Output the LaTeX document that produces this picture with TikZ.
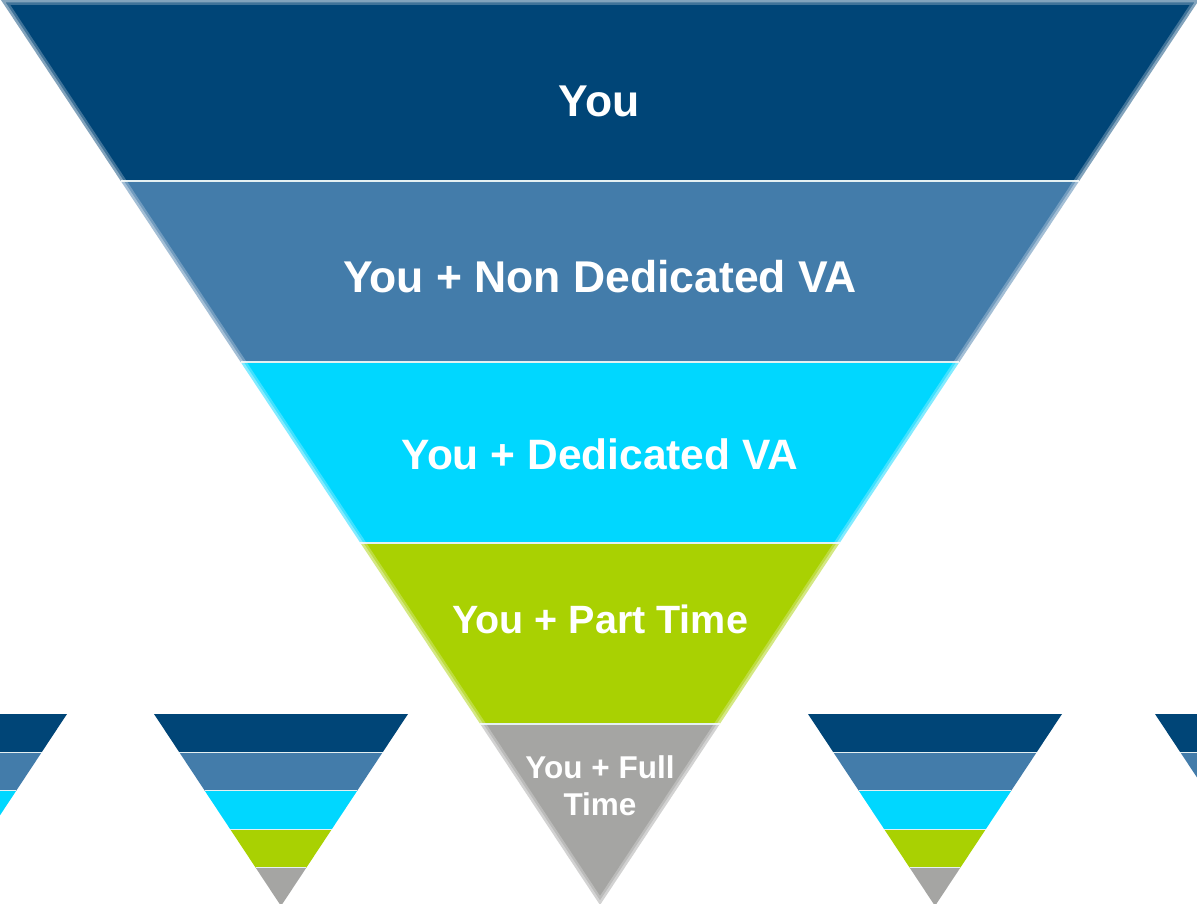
\documentclass[tikz,border=0pt]{standalone}
\usepackage{fontspec}
\setmainfont{Liberation Sans}
\usepackage{tikz}
\usetikzlibrary{calc}
\definecolor{funBlue}{HTML}{004577}
\definecolor{funSteel}{HTML}{437CAA}
\definecolor{funCyan}{HTML}{00D7FF}
\definecolor{funGreen}{HTML}{A9D102}
\definecolor{funGray}{HTML}{A5A5A3}
\definecolor{funSep}{HTML}{E4F0F2}
\tikzset{
	bandtext/.style 2 args={text=white, inner sep=0pt, align=center,
		font=\bfseries\fontsize{#1}{#2}\selectfont},
	softedge/.style={draw=white, line join=miter, draw opacity=#1},
}
% centre x, top y, half width, height, separator width
\newcommand{\funnel}[5]{%
	\coordinate (fl) at ({#1-#3},#2);
	\coordinate (fr) at ({#1+#3},#2);
	\coordinate (fa) at (#1,{#2+#4});
	\foreach \col [count=\i from 0] in {funBlue,funSteel,funCyan,funGreen,funGray} {
		\pgfmathsetmacro\ta{1-\i/5}
		\pgfmathsetmacro\tb{1-(\i+1)/5}
		\fill[\col] ($(fa)!\ta!(fl)$) -- ($(fa)!\ta!(fr)$) -- ($(fa)!\tb!(fr)$) -- ($(fa)!\tb!(fl)$) -- cycle;
	}
	\foreach \t in {0.8,0.6,0.4,0.2}
		\draw[funSep, line width=#5] ($(fa)!\t!(fl)$) -- ($(fa)!\t!(fr)$);
}

\begin{document}
\begin{tikzpicture}[x=1pt, y=-1pt]
	\clip (0,0) rectangle (1197,904);
	\fill[white] (0,0) rectangle (1197,904);

	% small funnels along the bottom
	\funnel{-60}{714}{127}{192}{1.2}
	\funnel{281}{714}{127}{192}{1.2}
	\funnel{935}{714}{127}{192}{1.2}
	\funnel{1282}{714}{127}{192}{1.2}

	% big funnel, edges faded a little
	\funnel{600}{0}{599}{905}{2.2}
	\draw[softedge=0.25, line width=10] (fl) -- (fr) -- (fa) -- cycle;
	\draw[softedge=0.35, line width=5] (fl) -- (fr) -- (fa) -- cycle;

	\node[bandtext={44.5}{53}] (you) at (599,101) {You};
	\node[bandtext={44.5}{53}] (nonded) at (600,277) {You + Non Dedicated VA};
	\node[bandtext={42.5}{50}] (ded) at (600,454) {You + Dedicated VA};
	\node[bandtext={39.5}{47}] (part) at (600,619) {You + Part Time};
	\node[bandtext={31.5}{37}] (full) at (600,786) {You + Full\\Time};
\end{tikzpicture}
\end{document}
